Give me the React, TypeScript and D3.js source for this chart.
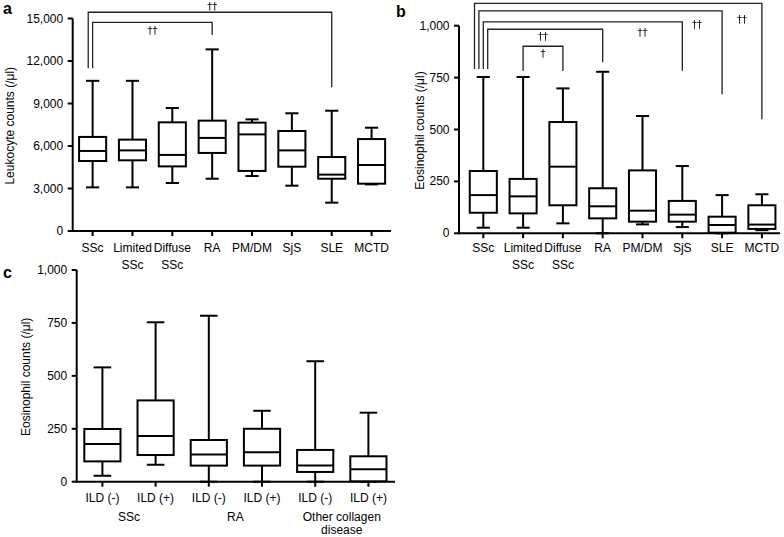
import React from "react";
import * as d3 from "d3";

// ---------- Data ----------
const groupsAB = ["SSc", "Limited\nSSc", "Diffuse\nSSc", "RA", "PM/DM", "SjS", "SLE", "MCTD"];

// Panel a: leukocyte counts (/μl)
const leukMin = [3080, 3080, 3390, 3690, 3880, 3200, 2000, 3290];
const leukQ1 = [4940, 4990, 4560, 5510, 4240, 4540, 3690, 3340];
const leukMedian = [5650, 5690, 5370, 6570, 6820, 5690, 3980, 4660];
const leukQ3 = [6640, 6450, 7670, 7790, 7650, 7060, 5220, 6490];
const leukMax = [10600, 10600, 8680, 12820, 7880, 8310, 8490, 7290];
const leukTicks = [0, 3000, 6000, 9000, 12000, 15000];

// Panel b: eosinophil counts (/μl)
const eosMin = [27, 27, 48, 0, 43, 30, 0, 15];
const eosQ1 = [99, 96, 135, 72, 56, 56, 3, 21];
const eosMedian = [184, 178, 321, 130, 109, 90, 40, 42];
const eosQ3 = [300, 262, 536, 217, 303, 156, 80, 135];
const eosMax = [753, 753, 698, 778, 565, 324, 184, 188];
const eosTicks = [0, 250, 500, 750, 1000];

// Panel c: eosinophil counts by ILD status
const ildLabels = ["ILD (-)", "ILD (+)", "ILD (-)", "ILD (+)", "ILD (-)", "ILD (+)"];
const ildGroups = ["SSc", "RA", "Other collagen\ndisease"];
const ildMin = [28, 80, 0, 0, 0, 0];
const ildQ1 = [96, 126, 76, 76, 46, 2];
const ildMedian = [178, 216, 129, 139, 76, 59];
const ildQ3 = [249, 384, 197, 250, 150, 120];
const ildMax = [540, 753, 784, 335, 569, 326];

// Significance brackets (data units)
const bracketsA = [
  { from: 0, to: 6, top: 15440, leftEnd: 11490, rightEnd: 10140, lane: -1, label: "††", labelAt: 3, labelY: 15830 },
  { from: 0, to: 3, top: 14730, leftEnd: 11490, rightEnd: 13840, lane: 0, label: "††", labelAt: 1.5, labelY: 14130 },
];
const bracketsB = [
  { from: 0, to: 7, top: 1108, leftEnd: 791, rightEnd: 549, lane: -2, label: "††", labelAt: 6.5, labelY: 1032 },
  { from: 0, to: 6, top: 1071, leftEnd: 791, rightEnd: 670, lane: -1, label: "††", labelAt: 5.37, labelY: 1008 },
  { from: 0, to: 5, top: 1018, leftEnd: 791, rightEnd: 783, lane: 0, label: "††", labelAt: 4.0, labelY: 967 },
  { from: 0, to: 3, top: 983, leftEnd: 791, rightEnd: 824, lane: 1, label: "††", labelAt: 1.5, labelY: 950 },
  { from: 1, to: 2, top: 901, leftEnd: 782, rightEnd: 782, lane: 0, label: "†", labelAt: 1.5, labelY: 867 },
];

const FONT = "'Liberation Sans', Arial, Helvetica, sans-serif";
const fmt = d3.format(",");

type Bracket = typeof bracketsA[number];

function Panel(props: {
  axisX: number;
  axisRight: number;
  bandStart: number;
  step: number;
  y: d3.ScaleLinear<number, number>;
  ticks: number[];
  labels: string[];
  mins: number[];
  q1s: number[];
  meds: number[];
  q3s: number[];
  maxs: number[];
  labelGap: number;
  brackets?: Bracket[];
  title: string;
  titleX: number;
}) {
  const { axisX, axisRight, bandStart, step, y, ticks, labels, mins, q1s, meds, q3s, maxs, labelGap, brackets, title, titleX } = props;
  const x = d3
    .scaleBand<number>()
    .domain(labels.map((_, i) => i))
    .range([bandStart, bandStart + step * labels.length])
    .padding(0);
  const cx = (i: number) => (x(i) as number) + x.bandwidth() / 2;
  const pos = (f: number) => bandStart + step * (f + 0.5);
  const bw = step * 0.68;
  const cw = step * 0.33;
  const y0 = y(0);
  const yTop = y(ticks[ticks.length - 1]);
  const [r0, r1] = y.range();
  return (
    <g>
      {/* y axis */}
      <line x1={axisX} x2={axisX} y1={y0 + 1} y2={yTop} stroke="#000" strokeWidth={2} />
      {ticks.map((t) => (
        <g key={t}>
          <line x1={axisX - 5} x2={axisX} y1={y(t)} y2={y(t)} stroke="#000" strokeWidth={2} />
          <text x={axisX - 9.5} y={y(t)} textAnchor="end" dominantBaseline="central" fontSize={12} fontFamily={FONT}>
            {fmt(t)}
          </text>
        </g>
      ))}
      <text
        transform={`translate(${titleX},${(r0 + r1) / 2 + 1}) rotate(-90)`}
        textAnchor="middle"
        dominantBaseline="central"
        fontSize={12}
        fontFamily={FONT}
      >
        {title}
      </text>
      {/* x axis */}
      <line x1={axisX - 1} x2={axisRight} y1={y0} y2={y0} stroke="#000" strokeWidth={2} />
      {labels.map((lab, i) => (
        <g key={i}>
          <line x1={cx(i)} x2={cx(i)} y1={y0} y2={y0 + 5} stroke="#000" strokeWidth={2} />
          {lab.split("\n").map((ln, k) => (
            <text key={k} x={cx(i)} y={y0 + labelGap + k * 17} textAnchor="middle" dominantBaseline="central" fontSize={12} fontFamily={FONT}>
              {ln}
            </text>
          ))}
        </g>
      ))}
      {/* boxes */}
      {labels.map((_, i) => {
        const c = cx(i);
        return (
          <g key={"b" + i} stroke="#000" strokeWidth={2} fill="none">
            <line x1={c} x2={c} y1={y(maxs[i])} y2={y(q3s[i])} />
            <line x1={c} x2={c} y1={y(q1s[i])} y2={y(mins[i])} />
            <line x1={c - cw / 2} x2={c + cw / 2} y1={y(maxs[i])} y2={y(maxs[i])} />
            <line x1={c - cw / 2} x2={c + cw / 2} y1={y(mins[i])} y2={y(mins[i])} />
            <rect x={c - bw / 2} y={y(q3s[i])} width={bw} height={y(q1s[i]) - y(q3s[i])} fill="#fff" />
            <line x1={c - bw / 2} x2={c + bw / 2} y1={y(meds[i])} y2={y(meds[i])} />
          </g>
        );
      })}
      {/* brackets */}
      {(brackets || []).map((b, i) => {
        const xl = cx(b.from) + b.lane * 4.4;
        const xr = cx(b.to);
        return (
          <g key={"k" + i}>
            <path
              d={`M${xl},${y(b.leftEnd)}V${y(b.top)}H${xr}V${y(b.rightEnd)}`}
              fill="none"
              stroke="#222"
              strokeWidth={1.3}
            />
            <text
              x={pos(b.labelAt)}
              y={y(b.labelY)}
              textAnchor="middle"
              dominantBaseline="central"
              fontSize={10}
              fontFamily="'DejaVu Sans', sans-serif"
              fill="#000"
              filter="url(#gray)"
            >
              {b.label}
            </text>
          </g>
        );
      })}
    </g>
  );
}

export default function App() {
  const yA = d3.scaleLinear().domain([0, 15000]).range([231, 18.5]);
  const yB = d3.scaleLinear().domain([0, 1000]).range([233.3, 25.7]);
  const yC = d3.scaleLinear().domain([0, 1000]).range([481.7, 270]);
  const stepC = 53.2;
  const bandC = 75.8;
  return (
    <svg width={784} height={537} style={{ position: "absolute", left: 0, top: 0, background: "#fff" }}>
      <defs>
        <filter id="gray" x="-50%" y="-50%" width="200%" height="200%">
          <feColorMatrix type="saturate" values="0" />
        </filter>
      </defs>
      <rect width={784} height={537} fill="#fff" />
      <text x={3} y={13.5} fontSize={16} fontWeight="bold" fontFamily={FONT}>a</text>
      <text x={396} y={16.5} fontSize={16} fontWeight="bold" fontFamily={FONT}>b</text>
      <text x={3} y={277.5} fontSize={16} fontWeight="bold" fontFamily={FONT}>c</text>

      <Panel
        axisX={72.7}
        axisRight={391}
        bandStart={72.7}
        step={39.85}
        y={yA}
        ticks={leukTicks}
        labels={groupsAB}
        mins={leukMin}
        q1s={leukQ1}
        meds={leukMedian}
        q3s={leukQ3}
        maxs={leukMax}
        labelGap={17}
        brackets={bracketsA}
        title="Leukocyte counts (/μl)"
        titleX={10}
      />
      <Panel
        axisX={459}
        axisRight={780}
        bandStart={463.4}
        step={39.8}
        y={yB}
        ticks={eosTicks}
        labels={groupsAB}
        mins={eosMin}
        q1s={eosQ1}
        meds={eosMedian}
        q3s={eosQ3}
        maxs={eosMax}
        labelGap={15}
        brackets={bracketsB}
        title="Eosinophil  counts (/μl)"
        titleX={420}
      />
      <Panel
        axisX={76.7}
        axisRight={395}
        bandStart={bandC}
        step={stepC}
        y={yC}
        ticks={eosTicks}
        labels={ildLabels}
        mins={ildMin}
        q1s={ildQ1}
        meds={ildMedian}
        q3s={ildQ3}
        maxs={ildMax}
        labelGap={16.6}
        title="Eosinophil counts (/μl)"
        titleX={26}
      />
      {ildGroups.map((g, gi) =>
        g.split("\n").map((ln, k) => (
          <text
            key={gi + "-" + k}
            x={bandC + stepC * (gi * 2 + 1)}
            y={516.7 + k * 13.5}
            textAnchor="middle"
            dominantBaseline="central"
            fontSize={12}
            fontFamily={FONT}
          >
            {ln}
          </text>
        ))
      )}
    </svg>
  );
}
